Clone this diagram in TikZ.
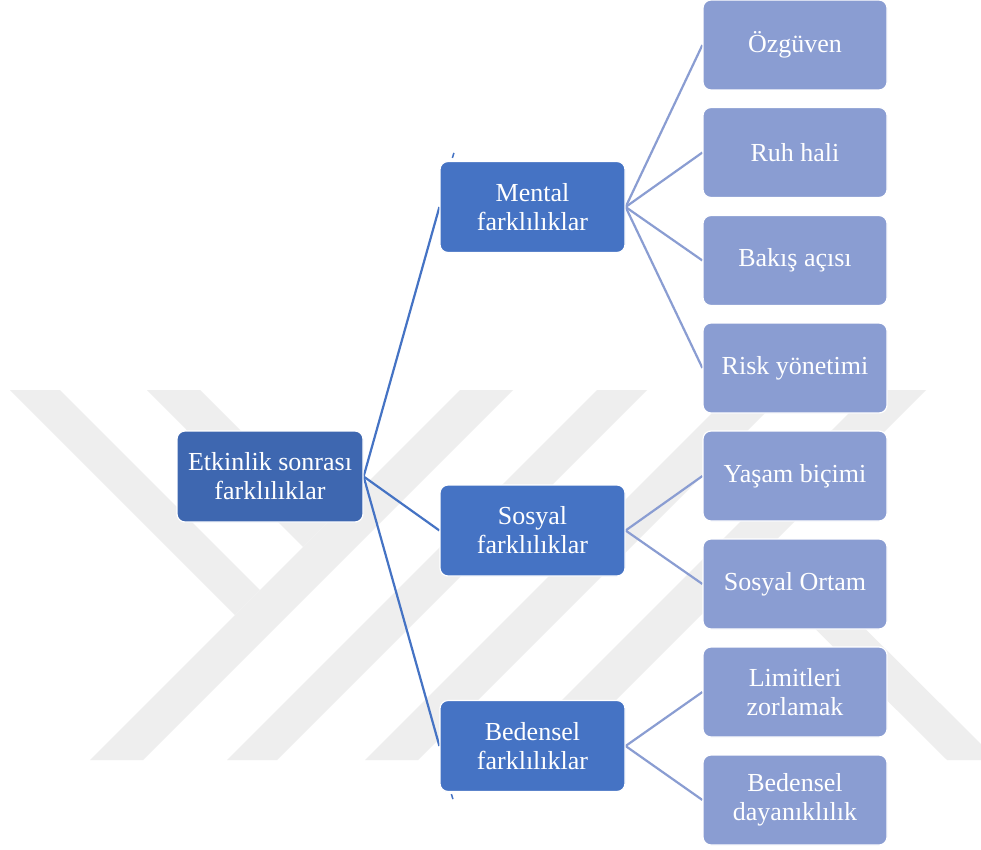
\documentclass[tikz,border=0pt]{standalone}
\usepackage{fontspec}
\setmainfont{Liberation Serif}
\usetikzlibrary{calc}
\definecolor{rootblue}{RGB}{62,103,176}
\definecolor{midblue}{RGB}{69,115,196}
\definecolor{leafblue}{RGB}{138,157,210}
\definecolor{wmgray}{RGB}{238,238,238}
\pgfdeclarelayer{wmlayer}
\pgfdeclarelayer{linelayer}
\pgfsetlayers{wmlayer,linelayer,main}
\tikzset{
  box/.style={rectangle, rounded corners=8pt, draw=white, line width=1.2pt,
    text=white, align=center, inner sep=0pt,
    font=\fontsize{26}{29}\selectfont},
  rootbox/.style={box, fill=rootblue, minimum width=186pt, minimum height=91pt},
  midbox/.style={box, fill=midblue, minimum width=185pt, minimum height=91pt},
  leafbox/.style={box, fill=leafblue, minimum width=184pt, minimum height=90pt},
  rootline/.style={draw=midblue, line width=2.2pt},
  leafline/.style={draw=leafblue, line width=2.2pt},
  wmband/.style={fill=wmgray, draw=none}
}
\begin{document}
\begin{tikzpicture}[x=1pt,y=-1pt]
\useasboundingbox (0,0) rectangle (981,850);

% nodes
\node[rootbox] (root) at (270,476.5) {Etkinlik sonrası\\farklılıklar};
\node[midbox] (mental) at (532.5,207) {Mental\\farklılıklar};
\node[midbox] (sosyal) at (532.5,530.5) {Sosyal\\farklılıklar};
\node[midbox] (bedensel) at (532.5,746) {Bedensel\\farklılıklar};

\node[leafbox] (ozguven) at (795,45) {Özgüven};
\node[leafbox] (ruh) at (795,152.5) {Ruh hali};
\node[leafbox] (bakis) at (795,260.5) {Bakış açısı};
\node[leafbox] (risk) at (795,368) {Risk yönetimi};
\node[leafbox] (yasam) at (795,476) {Yaşam biçimi};
\node[leafbox] (ortam) at (795,584) {Sosyal Ortam};
\node[leafbox] (limit) at (795,692) {Limitleri\\zorlamak};
\node[leafbox] (dayan) at (795,800) {Bedensel\\dayanıklılık};

% background and watermark
\begin{pgfonlayer}{wmlayer}
\fill[white] (0,0) rectangle (981,850);
\begin{scope}
\clip (0,0) rectangle (981,850);
\fill[wmband] (10,390) -- (60,390) -- (260,590) -- (235,615) -- cycle;
\fill[wmband] (147,390) -- (200,390) -- (330,520) -- (303,547) -- cycle;
\fill[wmband] (90,760) -- (143,760) -- (513,390) -- (460,390) -- cycle;
\fill[wmband] (227,760) -- (277,760) -- (647,390) -- (597,390) -- cycle;
\fill[wmband] (365,760) -- (418,760) -- (788,390) -- (735,390) -- cycle;
\fill[wmband] (502,760) -- (556,760) -- (926,390) -- (872,390) -- cycle;
\fill[wmband] (751,565) -- (776,540) -- (997,760) -- (947,760) -- cycle;
\end{scope}
\end{pgfonlayer}

% connectors
\begin{pgfonlayer}{linelayer}
\draw[rootline] (root.east) -- (mental.west);
\draw[rootline] (root.east) -- (sosyal.west);
\draw[rootline] (root.east) -- (bedensel.west);
\draw[rootline, line width=1.5pt] ($(mental.north west)+(14.5,-8)$) -- ($(mental.north west)+(13,-3)$);
\draw[rootline, line width=1.5pt] ($(bedensel.south west)+(12,2)$) -- ($(bedensel.south west)+(13.5,7)$);
\draw[leafline] (mental.east) -- (ozguven.west);
\draw[leafline] (mental.east) -- (ruh.west);
\draw[leafline] (mental.east) -- (bakis.west);
\draw[leafline] (mental.east) -- (risk.west);
\draw[leafline] (sosyal.east) -- (yasam.west);
\draw[leafline] (sosyal.east) -- (ortam.west);
\draw[leafline] (bedensel.east) -- (limit.west);
\draw[leafline] (bedensel.east) -- (dayan.west);
\end{pgfonlayer}
\end{tikzpicture}
\end{document}
